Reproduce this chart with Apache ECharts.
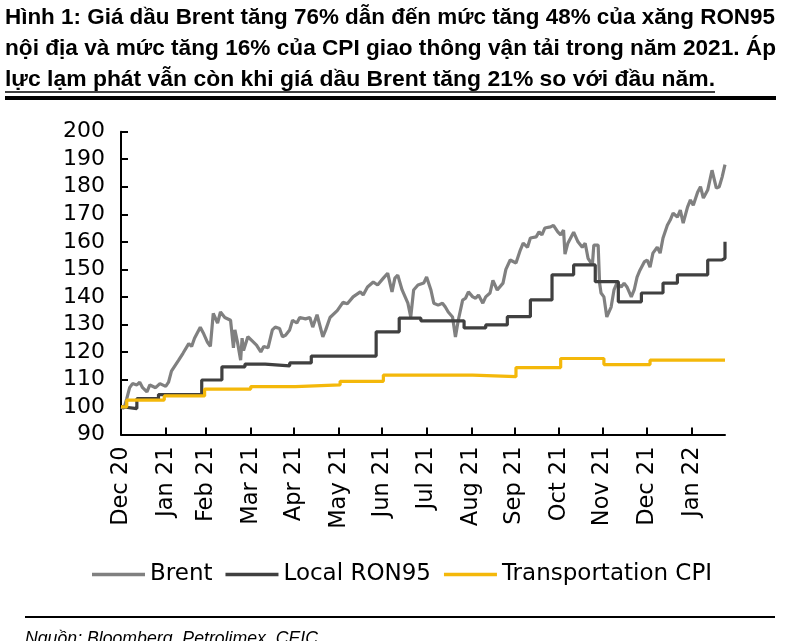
<!DOCTYPE html>
<html>
<head>
<meta charset="utf-8">
<script src="https://cdn.jsdelivr.net/npm/echarts@6/dist/echarts.min.js"></script>
<style>
html,body{margin:0;padding:0;background:#fff;}
#chart{width:800px;height:641px;}
</style>
</head>
<body>
<div id="chart"></div>
<script>
const titleLines = [
  'Hình 1: Giá dầu Brent tăng 76% dẫn đến mức tăng 48% của xăng RON95',
  'nội địa và mức tăng 16% của CPI giao thông vận tải trong năm 2021. Áp',
  'lực lạm phát vẫn còn khi giá dầu Brent tăng 21% so với đầu năm.'
];
const sourceText = 'Nguồn: Bloomberg, Petrolimex, CEIC';
const seriesNames = ['Brent', 'Local RON95', 'Transportation CPI'];

const tickDates = ['2020-12-31','2021-01-31','2021-02-28','2021-03-31','2021-04-30','2021-05-31','2021-06-30',
  '2021-07-31','2021-08-31','2021-09-30','2021-10-31','2021-11-30','2021-12-31','2022-01-31'];
const tickLabels = ['Dec 20','Jan 21','Feb 21','Mar 21','Apr 21','May 21','Jun 21','Jul 21','Aug 21','Sep 21',
  'Oct 21','Nov 21','Dec 21','Jan 22'];
const xStart = '2020-12-31';
const xEnd = '2022-02-23';

const brentDates = ['2020-12-31','2021-01-02','2021-01-04','2021-01-06','2021-01-08','2021-01-11','2021-01-13','2021-01-15',
  '2021-01-18','2021-01-20','2021-01-24','2021-01-27','2021-01-31','2021-02-02','2021-02-04','2021-02-09','2021-02-12',
  '2021-02-16','2021-02-18','2021-02-20','2021-02-24','2021-02-26','2021-03-01','2021-03-03','2021-03-05','2021-03-08',
  '2021-03-10','2021-03-13','2021-03-17','2021-03-19','2021-03-20','2021-03-22','2021-03-24','2021-03-25','2021-03-26',
  '2021-03-29','2021-04-01','2021-04-04','2021-04-07','2021-04-09','2021-04-12','2021-04-15','2021-04-17','2021-04-20',
  '2021-04-22','2021-04-24','2021-04-27','2021-04-29','2021-05-02','2021-05-04','2021-05-08','2021-05-11','2021-05-13',
  '2021-05-16','2021-05-20','2021-05-22','2021-05-25','2021-05-30','2021-06-03','2021-06-06','2021-06-10','2021-06-15',
  '2021-06-17','2021-06-20','2021-06-24','2021-06-27','2021-07-01','2021-07-04','2021-07-07','2021-07-09','2021-07-11',
  '2021-07-14','2021-07-18','2021-07-20','2021-07-22','2021-07-25','2021-07-29','2021-07-31','2021-08-03','2021-08-05',
  '2021-08-08','2021-08-11','2021-08-13','2021-08-15','2021-08-18','2021-08-20','2021-08-22','2021-08-25','2021-08-27',
  '2021-08-29','2021-09-01','2021-09-03','2021-09-05','2021-09-08','2021-09-10','2021-09-13','2021-09-15','2021-09-18',
  '2021-09-22','2021-09-24','2021-09-27','2021-10-01','2021-10-04','2021-10-06','2021-10-09','2021-10-11','2021-10-15',
  '2021-10-17','2021-10-19','2021-10-21','2021-10-25','2021-10-27','2021-10-30','2021-11-01','2021-11-03','2021-11-04',
  '2021-11-06','2021-11-10','2021-11-13','2021-11-16','2021-11-18','2021-11-20','2021-11-23','2021-11-24','2021-11-27',
  '2021-11-28','2021-11-29','2021-12-01','2021-12-03','2021-12-06','2021-12-08','2021-12-10','2021-12-13','2021-12-15',
  '2021-12-17','2021-12-20','2021-12-22','2021-12-24','2021-12-26','2021-12-29','2021-12-31','2022-01-02','2022-01-04',
  '2022-01-07','2022-01-09','2022-01-11','2022-01-14','2022-01-16','2022-01-18','2022-01-21','2022-01-23','2022-01-25',
  '2022-01-28','2022-01-30','2022-02-01','2022-02-04','2022-02-06','2022-02-08','2022-02-11','2022-02-14','2022-02-17',
  '2022-02-19','2022-02-21','2022-02-23'];
const brentValues = [100,99.5,103,107,108.5,108,109,107,105.5,108,107,108.5,107.5,109,113,117,119.5,
  123,122,125,129,127,123.5,122,134,130.5,
  134.5,132.5,131.5,121.5,128,123,117,125,120.5,
  125.5,124,122.5,120,122,121.5,128,129,128.5,
  125.5,126,128,131.5,130.5,132.5,132,132.5,129,
  133.5,125.5,128,132.5,135,138,137.5,140,141.8,
  140.7,143.6,145.4,144.3,146.8,148.6,141.8,146.8,147.9,
  142.5,137.7,132.7,142.5,144.3,145,147.2,142.5,137.7,
  137,137.7,136.3,134.5,132.7,125.4,131.6,138.8,139.5,
  141.8,140,139.5,140.7,137.7,140,141.4,146,142.5,
  145,150,153.4,152.3,157,159.5,158,161.4,161.8,
  163.6,162.5,165,165.4,166,163.6,162.5,164.3,155.5,
  159.5,163.5,160,158,159.5,154,151.6,158.8,158.8,
  145,141.4,140,132.7,136.3,142.5,145,143.6,145,
  143.6,140,142.5,147.2,149.7,152.7,153.4,150.8,155.9,
  158,155.9,161.4,166,167.9,170.4,169,171.5,166.8,
  172.6,175.2,173.3,178,180,175.9,178.8,186,179.5,
  180,183.5,188];

const ron95Dates = ['2020-12-31','2021-01-02','2021-01-11','2021-01-26','2021-02-25','2021-03-11','2021-03-27','2021-04-10',
  '2021-04-27','2021-05-12','2021-06-26','2021-07-12','2021-07-27','2021-08-26','2021-09-10','2021-09-25','2021-10-11',
  '2021-10-26','2021-11-10','2021-11-25','2021-12-11','2021-12-27','2022-01-11','2022-01-21','2022-02-11','2022-02-21','2022-02-23'];
const ron95Values = [100,99.4,103,104.5,109.8,114.6,115.6,114.9,
  116,118.5,127.3,132.3,131.3,128.7,129.8,132.8,138.9,
  148,151.6,145.5,138.2,141.4,145,148,153.4,154,160];

const cpiDates = ['2020-12-31','2021-01-04','2021-01-30','2021-02-27','2021-03-31','2021-05-01','2021-06-01','2021-07-01',
  '2021-09-01','2021-10-01','2021-11-01','2021-12-01','2022-01-02','2022-02-23'];
const cpiValues = [100,102.5,104,106.5,107.4,108,109.3,111.6,111,114.3,117.6,115.4,117,117];

const colors = ['#808080', '#404040', '#F4B80A'];

// dates -> day numbers since the start date (value axis)
function dayNo(s){ const p = s.split('-').map(Number); return Math.round(Date.UTC(p[0], p[1]-1, p[2]) / 86400000); }
const day0 = dayNo(xStart);
function dx(s){ return dayNo(s) - day0; }
const tickDays = tickDates.map(dx);
function pairs(d, v){ return d.map((x,i)=>[dx(x), v[i]]); }

// measure text to fit widths
const mctx = document.createElement('canvas').getContext('2d');
function fitScale(text, font, target){ mctx.font = font; return target / mctx.measureText(text).width; }
const titleFont = 'bold 22px "Liberation Sans", Arial, sans-serif';
const titleTargets = [770, 771, 710];
const titleY = [18, 49, 80];
const graphics = titleLines.map((t,i)=>({
  type:'text', x:5, y:titleY[i], scaleX: fitScale(t, titleFont, titleTargets[i]),
  style:{ text:t, font:titleFont, fill:'#000', verticalAlign:'middle', align:'left' }
}));
graphics.push({type:'line', shape:{x1:5,y1:92,x2:715,y2:92}, style:{stroke:'#000', lineWidth:1.5}});
graphics.push({type:'line', shape:{x1:5,y1:98,x2:776,y2:98}, style:{stroke:'#000', lineWidth:4}});
graphics.push({type:'line', shape:{x1:25,y1:617,x2:775,y2:617}, style:{stroke:'#000', lineWidth:2}});
const srcFont = 'italic 18px "Liberation Sans", Arial, sans-serif';
graphics.push({type:'text', x:25, y:639, scaleX: fitScale(sourceText, srcFont, 293),
  style:{text:sourceText, font:srcFont, fill:'#000', verticalAlign:'middle', align:'left'}});

const chart = echarts.init(document.getElementById('chart'), null, {renderer:'canvas'});
chart.setOption({
  animation:false,
  backgroundColor:'#fff',
  color: colors,
  graphic: graphics,
  grid:{ left:121, right:75, top:131.7, bottom:206.5, containLabel:false, outerBoundsMode:'none' },
  legend:{
    left:87, top:558, icon:'rect', itemWidth:53, itemHeight:3.5, itemGap:13,
    textStyle:{ fontFamily:'DejaVu Sans', fontSize:23, color:'#000' },
    data: seriesNames
  },
  xAxis:{
    type:'value', min: 0, max: dx(xEnd),
    axisLine:{ show:true, onZero:false, lineStyle:{ color:'#000', width:2 } },
    axisTick:{ show:true, inside:true, length:7, lineStyle:{ color:'#000', width:2 }, customValues: tickDays },
    axisLabel:{ customValues: tickDays, rotate:90, margin:12, color:'#000', fontFamily:'DejaVu Sans', fontSize:22.5,
      hideOverlap:false,
      formatter: function(v){ const i = tickDays.indexOf(Math.round(v)); return i >= 0 ? tickLabels[i] : ''; } },
    splitLine:{ show:false }, minorTick:{show:false}
  },
  yAxis:{
    type:'value', min:90, max:200, interval:10,
    axisLine:{ show:true, lineStyle:{ color:'#000', width:2 } },
    axisTick:{ show:true, inside:true, length:7, lineStyle:{ color:'#000', width:2 } },
    axisLabel:{ margin:16, color:'#000', fontFamily:'DejaVu Sans', fontSize:22 },
    splitLine:{ show:false }
  },
  series:[
    { name:seriesNames[0], type:'line', symbol:'none', data: pairs(brentDates, brentValues), lineStyle:{ width:3.2, color:colors[0] } },
    { name:seriesNames[1], type:'line', symbol:'none', step:'end', data: pairs(ron95Dates, ron95Values), lineStyle:{ width:3.2, color:colors[1] } },
    { name:seriesNames[2], type:'line', symbol:'none', step:'end', data: pairs(cpiDates, cpiValues), lineStyle:{ width:3.2, color:colors[2] } }
  ]
});
</script>
</body>
</html>
